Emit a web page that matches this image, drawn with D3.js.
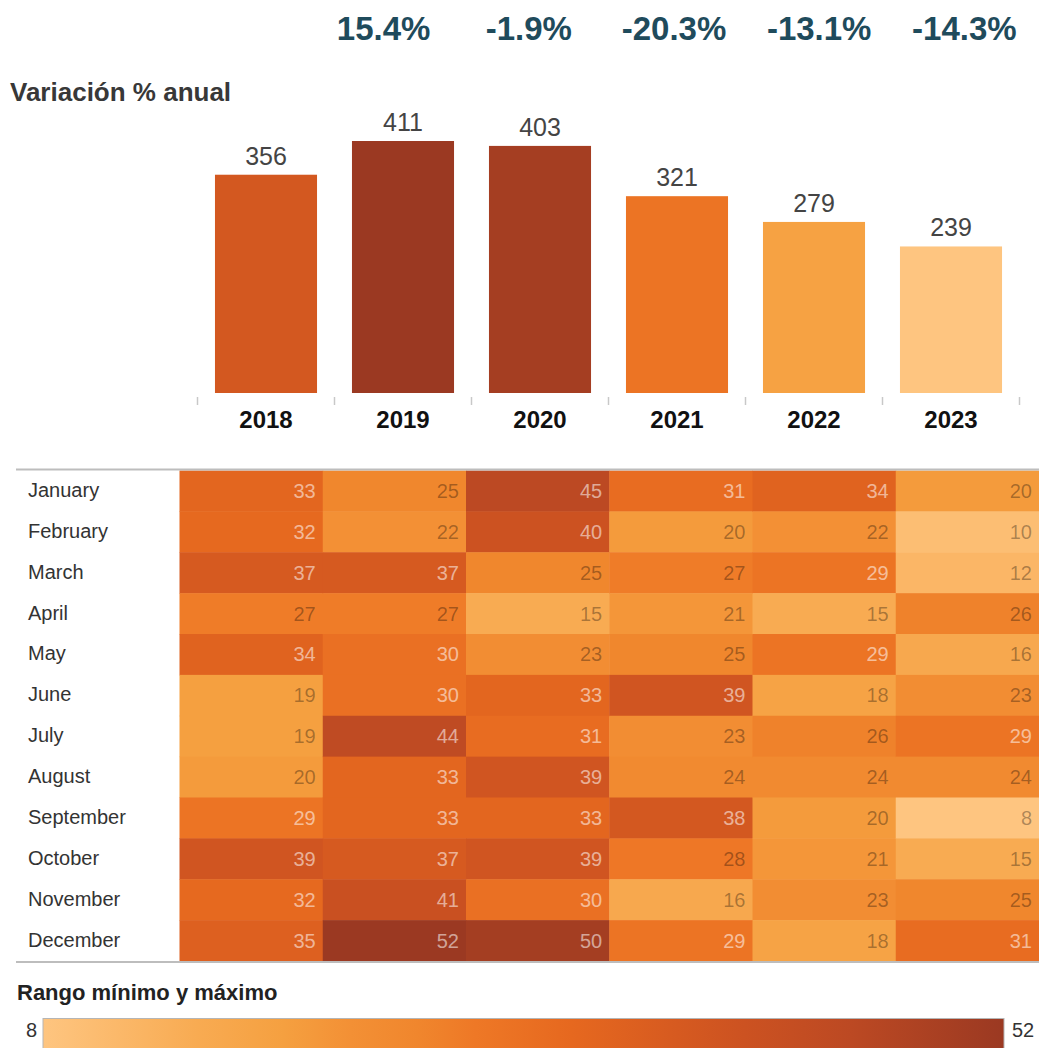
<!DOCTYPE html>
<html>
<head>
<meta charset="utf-8">
<script src="https://cdn.jsdelivr.net/npm/d3@7"></script>
<style>
  html, body { margin: 0; padding: 0; background: #fff; }
  svg { display: block; font-family: "Liberation Sans", Arial, sans-serif; }
</style>
</head>
<body>
<svg id="chart" width="1039" height="1048"></svg>
<script>
// ---------- DATA ----------
const years = ["2018", "2019", "2020", "2021", "2022", "2023"];
const totals = [356, 411, 403, 321, 279, 239];
const pctYears = ["2019", "2020", "2021", "2022", "2023"];
const pctLabels = ["15.4%", "-1.9%", "-20.3%", "-13.1%", "-14.3%"];
const months = ["January", "February", "March", "April", "May", "June", "July",
  "August", "September", "October", "November", "December"];
const v2018 = [33, 32, 37, 27, 34, 19, 19, 20, 29, 39, 32, 35];
const v2019 = [25, 22, 37, 27, 30, 30, 44, 33, 33, 37, 41, 52];
const v2020 = [45, 40, 25, 15, 23, 33, 31, 39, 33, 39, 30, 50];
const v2021 = [31, 20, 27, 21, 25, 39, 23, 24, 38, 28, 16, 29];
const v2022 = [34, 22, 29, 15, 29, 18, 26, 24, 20, 21, 23, 18];
const v2023 = [20, 10, 12, 26, 16, 23, 29, 24, 8, 15, 25, 31];
const monthly = [v2018, v2019, v2020, v2021, v2022, v2023];
const legendTitle = "Rango mínimo y máximo";
const barTitle = "Variación % anual";

// ---------- STYLE ----------
const rampColors = ["#fec580", "#f8ab52", "#f5a040", "#f39035", "#f0862d",
  "#ee7826", "#e6681f", "#d65a20", "#cc5221", "#bc4923", "#9b3922"];
const rampPos = [0, 0.16, 0.25, 0.32, 0.39, 0.45, 0.55, 0.66, 0.73, 0.84, 1];
const ramp = d3.scaleLinear().domain(rampPos).range(rampColors).interpolate(d3.interpolateRgb);

const svg = d3.select("#chart");

// ---------- TOP PERCENTAGES ----------
const xPct = d3.scaleBand().domain(pctYears).range([311, 1037]);
svg.append("g").selectAll("text").data(pctYears).join("text")
  .attr("x", d => xPct(d) + xPct.bandwidth() / 2)
  .attr("y", 40)
  .attr("text-anchor", "middle")
  .attr("font-size", 33).attr("font-weight", "bold")
  .attr("fill", "#1f4b5c")
  .text((d, i) => pctLabels[i]);

// ---------- BAR CHART ----------
svg.append("text").attr("x", 10).attr("y", 101)
  .attr("font-size", 26).attr("font-weight", "bold").attr("fill", "#383838")
  .text(barTitle);

const xBar = d3.scaleBand().domain(years).range([197.5, 1019.5])
  .paddingInner(0.255).paddingOuter(0.1275);
const yBar = d3.scaleLinear().domain([0, d3.max(totals)]).range([393, 141]);
const barColor = t => ramp((t - d3.min(totals)) / (d3.max(totals) - d3.min(totals)));

svg.append("g").selectAll("rect").data(years).join("rect")
  .attr("x", d => xBar(d))
  .attr("y", (d, i) => yBar(totals[i]))
  .attr("width", xBar.bandwidth())
  .attr("height", (d, i) => yBar(0) - yBar(totals[i]))
  .attr("fill", (d, i) => barColor(totals[i]));

svg.append("g").selectAll("text").data(years).join("text")
  .attr("x", d => xBar(d) + xBar.bandwidth() / 2)
  .attr("y", (d, i) => yBar(totals[i]) - 10)
  .attr("text-anchor", "middle")
  .attr("font-size", 25).attr("fill", "#444")
  .text((d, i) => totals[i]);

// category axis: ticks at band boundaries
const step = xBar.step();
const tickXs = years.map(d => xBar(d) - step * xBar.paddingInner() / 2)
  .concat([xBar(years[years.length - 1]) + xBar.bandwidth() + step * xBar.paddingInner() / 2]);
svg.append("g").selectAll("line").data(tickXs).join("line")
  .attr("x1", d => d).attr("x2", d => d)
  .attr("y1", 397).attr("y2", 405)
  .attr("stroke", "#c8c8c8").attr("stroke-width", 1.5);
svg.append("g").selectAll("text").data(years).join("text")
  .attr("x", d => xBar(d) + xBar.bandwidth() / 2)
  .attr("y", 428)
  .attr("text-anchor", "middle")
  .attr("font-size", 24).attr("font-weight", "bold").attr("fill", "#111")
  .text(d => d);

// ---------- HEATMAP ----------
const xCell = d3.scaleBand().domain(years).range([179.5, 1039]);
const yCell = d3.scaleBand().domain(months).range([470.5, 961]);
const allVals = monthly.flat();
const vMin = d3.min(allVals), vMax = d3.max(allVals);
const cellColor = d3.scaleLinear().domain([vMin, vMax]).range([0, 1]);

const cells = [];
years.forEach((y, yi) => months.forEach((m, mi) => cells.push({ y, m, v: monthly[yi][mi] })));

svg.append("g").selectAll("rect").data(cells).join("rect")
  .attr("x", d => xCell(d.y))
  .attr("y", d => yCell(d.m))
  .attr("width", xCell.bandwidth() + 0.5)
  .attr("height", yCell.bandwidth() + 0.5)
  .attr("fill", d => ramp(cellColor(d.v)));

svg.append("g").selectAll("text").data(cells).join("text")
  .attr("x", d => xCell(d.y) + xCell.bandwidth() - 7)
  .attr("y", d => yCell(d.m) + yCell.bandwidth() / 2 + 7)
  .attr("text-anchor", "end")
  .attr("font-size", 20)
  .attr("fill", d => d.v >= 29 ? "rgba(255,255,255,0.55)" : "rgba(0,0,0,0.33)")
  .text(d => d.v);

svg.append("g").selectAll("text").data(months).join("text")
  .attr("x", 28)
  .attr("y", d => yCell(d) + yCell.bandwidth() / 2 + 6)
  .attr("font-size", 20).attr("fill", "#333")
  .text(d => d);

svg.append("line").attr("x1", 16).attr("x2", 1039).attr("y1", 469.5).attr("y2", 469.5)
  .attr("stroke", "#bdbdbd").attr("stroke-width", 2);
svg.append("line").attr("x1", 16).attr("x2", 1039).attr("y1", 962).attr("y2", 962)
  .attr("stroke", "#bdbdbd").attr("stroke-width", 2);

// ---------- LEGEND ----------
svg.append("text").attr("x", 17).attr("y", 1000)
  .attr("font-size", 22).attr("font-weight", "bold").attr("fill", "#222")
  .text(legendTitle);

const defs = svg.append("defs");
const grad = defs.append("linearGradient").attr("id", "lg")
  .attr("x1", "0%").attr("x2", "100%").attr("y1", "0%").attr("y2", "0%");
grad.selectAll("stop").data(rampPos).join("stop")
  .attr("offset", d => (d * 100) + "%")
  .attr("stop-color", (d, i) => rampColors[i]);

const xLeg = d3.scaleLinear().domain([vMin, vMax]).range([43, 1004]);
svg.append("rect")
  .attr("x", xLeg(vMin)).attr("y", 1018.5)
  .attr("width", xLeg(vMax) - xLeg(vMin)).attr("height", 40)
  .attr("fill", "url(#lg)").attr("stroke", "#b5b5b5").attr("stroke-width", 1);

svg.append("text").attr("x", xLeg(vMin) - 6).attr("y", 1037)
  .attr("text-anchor", "end").attr("font-size", 20).attr("fill", "#333")
  .text(vMin);
svg.append("text").attr("x", xLeg(vMax) + 8).attr("y", 1037)
  .attr("font-size", 20).attr("fill", "#333")
  .text(vMax);
</script>
</body>
</html>
